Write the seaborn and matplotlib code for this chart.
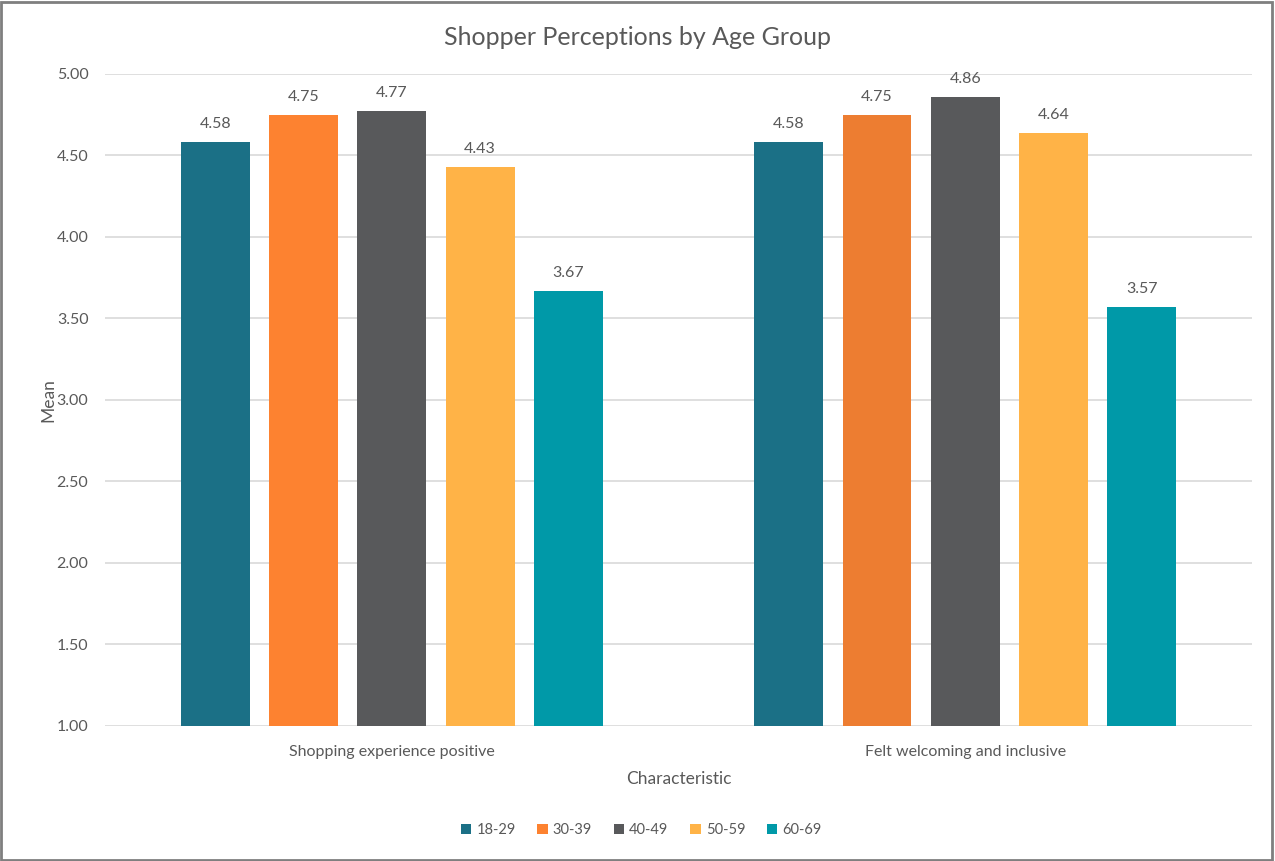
import matplotlib
matplotlib.use("Agg")
import matplotlib.pyplot as plt
import seaborn as sns
import pandas as pd
from matplotlib.patches import Rectangle

categories = ["Shopping experience positive", "Felt welcoming and inclusive"]
age_groups = ["18-29", "30-39", "40-49", "50-59", "60-69"]
values_18_29 = [4.58, 4.58]
values_30_39 = [4.75, 4.75]
values_40_49 = [4.77, 4.86]
values_50_59 = [4.43, 4.64]
values_60_69 = [3.67, 3.57]
yticks = [1.0, 1.5, 2.0, 2.5, 3.0, 3.5, 4.0, 4.5, 5.0]

series = [values_18_29, values_30_39, values_40_49, values_50_59, values_60_69]
rows = []
for g, vals in zip(age_groups, series):
    for c, v in zip(categories, vals):
        rows.append({"Characteristic": c, "Age": g, "Mean": v})
df = pd.DataFrame(rows)

palette = ["#1B7086", "#FD8230", "#58595B", "#FFB347", "#0099A8"]

sns.set_theme(style="white")
plt.rcParams["font.family"] = ["Lato", "DejaVu Sans"]

fig = plt.figure(figsize=(12.75, 8.61), dpi=100)
ax = fig.add_axes([0.0824, 0.1568, 0.8996, 0.7573])

sns.barplot(data=df, x="Characteristic", y="Mean", hue="Age", order=categories,
            hue_order=age_groups, palette=palette, width=0.77, gap=0.22,
            ax=ax, legend=True, saturation=1, linewidth=0)

for cont, g in zip(ax.containers, age_groups):
    if g == "30-39":
        cont.patches[1].set_facecolor("#ED7D31")
    ax.bar_label(cont, fmt="%.2f", padding=8, fontsize=11.5, color="#595959")

ax.set_ylim(1.0, 5.0)
ax.set_yticks(yticks)
ax.set_yticklabels([f"{t:.2f}" for t in yticks])
ax.yaxis.grid(True, color="#D9D9D9", linewidth=1.2)
ax.set_axisbelow(True)
for s in ax.spines.values():
    s.set_visible(False)
ax.tick_params(axis="both", length=0, labelsize=11.5, colors="#595959")
ax.tick_params(axis="y", pad=12)
ax.tick_params(axis="x", pad=14)
ax.set_ylabel("Mean", fontsize=12.5, color="#595959", labelpad=0)
ax.set_xlabel("Characteristic", fontsize=12.5, color="#595959", labelpad=8)

fig.suptitle("Shopper Perceptions by Age Group", y=0.97, fontsize=18, color="#595959")

handles, labels = ax.get_legend_handles_labels()
ax.get_legend().remove()
fig.legend(handles, labels, loc="center", bbox_to_anchor=(0.503, 0.036), ncol=5, frameon=False,
           fontsize=10.5, handlelength=0.7, handleheight=0.7, handletextpad=0.35,
           columnspacing=1.5, labelcolor="#595959")

fig.patches.append(Rectangle((0.001, 0.001), 0.997, 0.997, transform=fig.transFigure,
                             fill=False, edgecolor="#7F7F7F", linewidth=2))

fig.savefig("out.png", dpi=100, facecolor="white")
